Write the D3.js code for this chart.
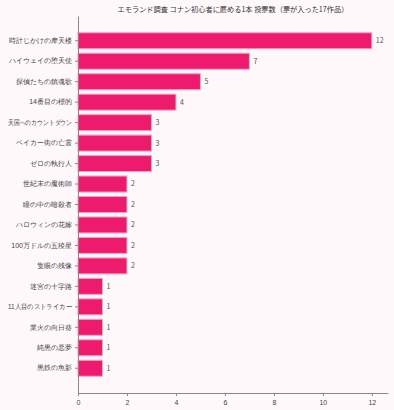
<!DOCTYPE html>
<html lang="ja">
<head>
<meta charset="UTF-8">
<title>コナン投票</title>
<script src="https://d3js.org/d3.v7.min.js"></script>
<style>
  html, body { margin: 0; padding: 0; background: #fff8fb; }
  svg { display: block; font-family: "Noto Sans CJK JP", "Noto Sans", sans-serif; }
  .axis path, .axis line { stroke: #888; }
  .axis text { fill: #444; font-size: 7px; }
</style>
</head>
<body>
<script>
// data
var titles = ["時計じかけの摩天楼", "ハイウェイの堕天使", "探偵たちの鎮魂歌", "14番目の標的",
  "天国へのカウントダウン", "ベイカー街の亡霊", "ゼロの執行人", "世紀末の魔術師",
  "瞳の中の暗殺者", "ハロウィンの花嫁", "100万ドルの五稜星", "隻眼の残像",
  "迷宮の十字路", "11人目のストライカー", "業火の向日葵", "純黒の悪夢", "黒鉄の魚影"];
var votes = [12, 7, 5, 4, 3, 3, 3, 2, 2, 2, 2, 2, 1, 1, 1, 1, 1];
var xTicks = [0, 2, 4, 6, 8, 10, 12];

var width = 394, height = 410;
var margin = {top: 16, right: 6, bottom: 17, left: 78};

var svg = d3.select("body").append("svg")
  .attr("width", width)
  .attr("height", height);

// scales
var x = d3.scaleLinear()
  .domain([0, d3.max(votes) * 1.055])
  .range([margin.left, width - margin.right]);

var y = d3.scaleBand()
  .domain(titles)
  .range([margin.top, height - margin.bottom])
  .paddingInner(0.22)
  .paddingOuter(0.82);

// title
svg.append("text")
  .attr("x", (margin.left + width - margin.right) / 2)
  .attr("y", 12)
  .attr("text-anchor", "middle")
  .style("font-size", "7.2px")
  .style("fill", "#333")
  .text("エモランド調査 コナン初心者に薦める1本 投票数（票が入った17作品）");

// bars
svg.selectAll(".bar")
  .data(votes)
  .enter()
  .append("rect")
  .attr("class", "bar")
  .attr("x", x(0))
  .attr("y", (d, i) => y(titles[i]))
  .attr("width", d => x(d) - x(0))
  .attr("height", y.bandwidth())
  .attr("fill", "#ee1a6e")
  .attr("stroke", "#f7a0c0")
  .attr("stroke-width", 1);

// value labels
svg.selectAll(".val")
  .data(votes)
  .enter()
  .append("text")
  .attr("class", "val")
  .attr("x", d => x(d) + 4)
  .attr("y", (d, i) => y(titles[i]) + y.bandwidth() / 2)
  .attr("dy", "0.35em")
  .style("font-size", "7px")
  .style("fill", "#555")
  .text(d => d);

// axes
svg.append("g")
  .attr("class", "axis")
  .attr("transform", `translate(0,${height - margin.bottom})`)
  .call(d3.axisBottom(x).tickValues(xTicks).tickSize(3).tickSizeOuter(0))
  .call(g => g.selectAll("text").attr("dy", "0.9em"));

svg.append("g")
  .attr("class", "axis")
  .attr("transform", `translate(${margin.left},0)`)
  .call(d3.axisLeft(y).tickSize(3).tickSizeOuter(0))
  .call(g => g.selectAll("text").each(function() {
    // squeeze long katakana labels so they stay inside the page
    var w = this.getComputedTextLength();
    if (w > 64) d3.select(this).attr("textLength", 64).attr("lengthAdjust", "spacingAndGlyphs");
  }));
</script>
</body>
</html>
